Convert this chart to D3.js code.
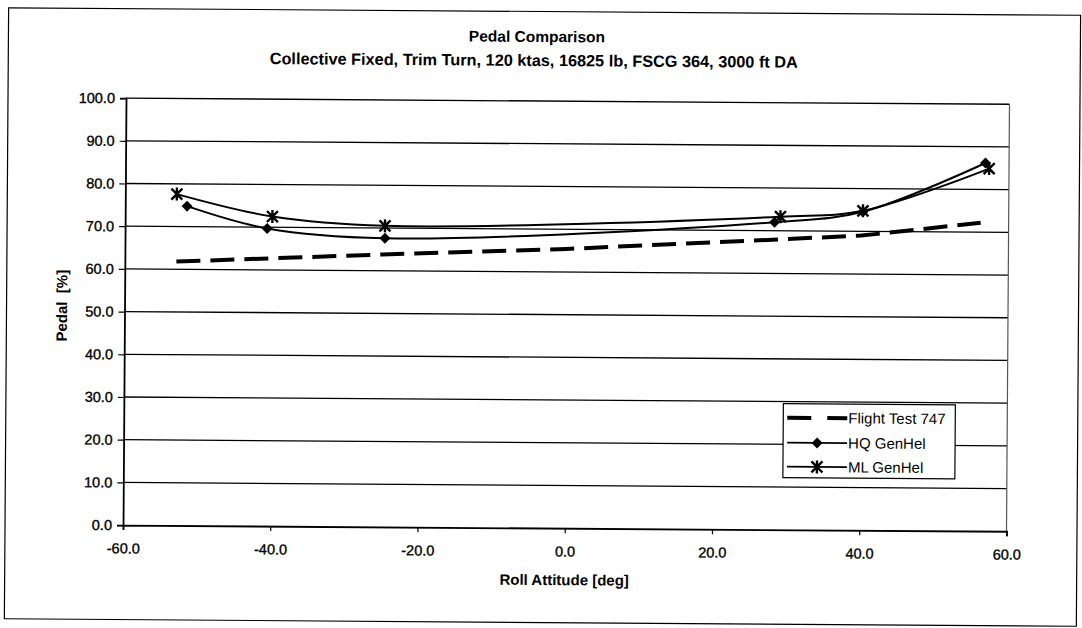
<!DOCTYPE html>
<html>
<head>
<meta charset="utf-8">
<script src="https://cdn.jsdelivr.net/npm/d3@7"></script>
<style>
  html, body { margin: 0; padding: 0; background: #fff; }
  svg { display: block; }
  text { font-family: "Liberation Sans", Arial, sans-serif; fill: #000; }
</style>
</head>
<body>
<svg id="chart" width="1082" height="628"></svg>
<script>
// ---- data ----
const titleLines = ["Pedal Comparison", "Collective Fixed, Trim Turn, 120 ktas, 16825 lb, FSCG 364, 3000 ft DA"];
const xTitle = "Roll Attitude [deg]";
const yTitle = "Pedal\u00a0 [%]";
const xTicks = [-60, -40, -20, 0, 20, 40, 60];
const yTicks = [0, 10, 20, 30, 40, 50, 60, 70, 80, 90, 100];

const seriesNames = ["Flight Test 747", "HQ GenHel", "ML GenHel"];

const flightX = [-53, -25, 0, 29, 40, 56.2];
const flightY = [61.8, 63.8, 65.4, 68.0, 69.0, 72.2];

const hqX = [-51.6, -40.7, -24.7, 28.2, 40.2, 56.8];
const hqY = [74.8, 69.7, 67.6, 72.0, 74.6, 86.2];

const mlX = [-53.0, -40.0, -24.7, 29.0, 40.2, 57.3];
const mlY = [77.6, 72.5, 70.5, 73.3, 74.8, 84.9];

// ---- layout ----
const svg = d3.select("#chart");
const root = svg.append("g").attr("transform", "rotate(0.4, 541, 314)");

const x = d3.scaleLinear().domain([-60, 60]).range([124.5, 1008]);
const y = d3.scaleLinear().domain([0, 100]).range([528, 101]);

// outer frame
root.append("rect")
  .attr("x", 6.5).attr("y", 11.5).attr("width", 1072).attr("height", 611)
  .attr("fill", "none").attr("stroke", "#000").attr("stroke-width", 1.2);

// titles
root.append("text").attr("x", 535).attr("y", 42).attr("text-anchor", "middle")
  .attr("font-size", 15.5).attr("font-weight", "bold").text(titleLines[0]);
root.append("text").attr("x", 532).attr("y", 66).attr("text-anchor", "middle")
  .attr("font-size", 16.3).attr("font-weight", "bold").text(titleLines[1]);

// gridlines
root.append("g").selectAll("line").data(yTicks.filter(d => d > 0)).join("line")
  .attr("x1", x(-60)).attr("x2", x(60))
  .attr("y1", d => y(d)).attr("y2", d => y(d))
  .attr("stroke", "#000").attr("stroke-width", 1.3);

// right plot border
root.append("line").attr("x1", x(60)).attr("x2", x(60)).attr("y1", y(100)).attr("y2", y(0))
  .attr("stroke", "#555").attr("stroke-width", 1.2);

// axes
const yAxis = root.append("g").attr("transform", `translate(${x(-60)},0)`)
  .call(d3.axisLeft(y).tickValues(yTicks).tickFormat(d => d.toFixed(1)).tickSize(6).tickPadding(5));
const xAxis = root.append("g").attr("transform", `translate(0,${y(0)})`)
  .call(d3.axisBottom(x).tickValues(xTicks).tickFormat(d => d.toFixed(1)).tickSize(5).tickPadding(13));
[yAxis, xAxis].forEach(a => {
  a.select(".domain").attr("stroke", "#000").attr("stroke-width", 1.8);
  a.selectAll(".tick line").attr("stroke", "#000").attr("stroke-width", 1.2);
  a.selectAll(".tick text").attr("font-size", 14.5).attr("font-family", "Liberation Sans, Arial, sans-serif")
    .attr("fill", "#000").attr("stroke", "#000").attr("stroke-width", 0.35);
});

// axis titles
root.append("text").attr("x", 566).attr("y", 585).attr("text-anchor", "middle")
  .attr("font-size", 15).attr("font-weight", "bold").text(xTitle);
root.append("text").attr("transform", "translate(67,309) rotate(-90)").attr("text-anchor", "middle")
  .attr("font-size", 15).attr("font-weight", "bold").text(yTitle);

// lines
const smooth = d3.line().x(d => x(d[0])).y(d => y(d[1])).curve(d3.curveCatmullRom.alpha(0.5));
const straight = d3.line().x(d => x(d[0])).y(d => y(d[1]));

const flight = d3.zip(flightX, flightY);
const hq = d3.zip(hqX, hqY);
const ml = d3.zip(mlX, mlY);

root.append("path").attr("d", straight(flight)).attr("fill", "none")
  .attr("stroke", "#000").attr("stroke-width", 4).attr("stroke-dasharray", "24,10");
root.append("path").attr("d", smooth(hq)).attr("fill", "none")
  .attr("stroke", "#000").attr("stroke-width", 2);
root.append("path").attr("d", smooth(ml)).attr("fill", "none")
  .attr("stroke", "#000").attr("stroke-width", 2);

const diamond = "M0,-5.5L5.5,0L0,5.5L-5.5,0Z";
const asterisk = "M0,-6.5V6.5M-5.5,-5.5L5.5,5.5M-5.5,5.5L5.5,-5.5";

root.append("g").selectAll("path").data(hq).join("path")
  .attr("transform", d => `translate(${x(d[0])},${y(d[1])})`)
  .attr("d", diamond).attr("fill", "#000");
root.append("g").selectAll("path").data(ml).join("path")
  .attr("transform", d => `translate(${x(d[0])},${y(d[1])})`)
  .attr("d", asterisk).attr("fill", "none").attr("stroke", "#000").attr("stroke-width", 2.4);

// legend
const lg = root.append("g");
lg.append("rect").attr("x", 784).attr("y", 402).attr("width", 172).attr("height", 74)
  .attr("fill", "#fff").attr("stroke", "#000").attr("stroke-width", 1.2);
const rows = [416, 441, 465];
lg.append("line").attr("x1", 788).attr("x2", 848).attr("y1", rows[0]).attr("y2", rows[0])
  .attr("stroke", "#000").attr("stroke-width", 4).attr("stroke-dasharray", "24,16");
lg.append("line").attr("x1", 788).attr("x2", 848).attr("y1", rows[1]).attr("y2", rows[1])
  .attr("stroke", "#000").attr("stroke-width", 1.8);
lg.append("path").attr("transform", `translate(818,${rows[1]})`).attr("d", diamond).attr("fill", "#000");
lg.append("line").attr("x1", 788).attr("x2", 848).attr("y1", rows[2]).attr("y2", rows[2])
  .attr("stroke", "#000").attr("stroke-width", 1.8);
lg.append("path").attr("transform", `translate(818,${rows[2]})`).attr("d", asterisk)
  .attr("fill", "none").attr("stroke", "#000").attr("stroke-width", 2.4);
lg.selectAll("text.lbl").data(seriesNames).join("text").attr("class", "lbl")
  .attr("x", 849).attr("y", (d, i) => rows[i]).attr("dy", "0.35em")
  .attr("font-size", 15).text(d => d);
</script>
</body>
</html>
